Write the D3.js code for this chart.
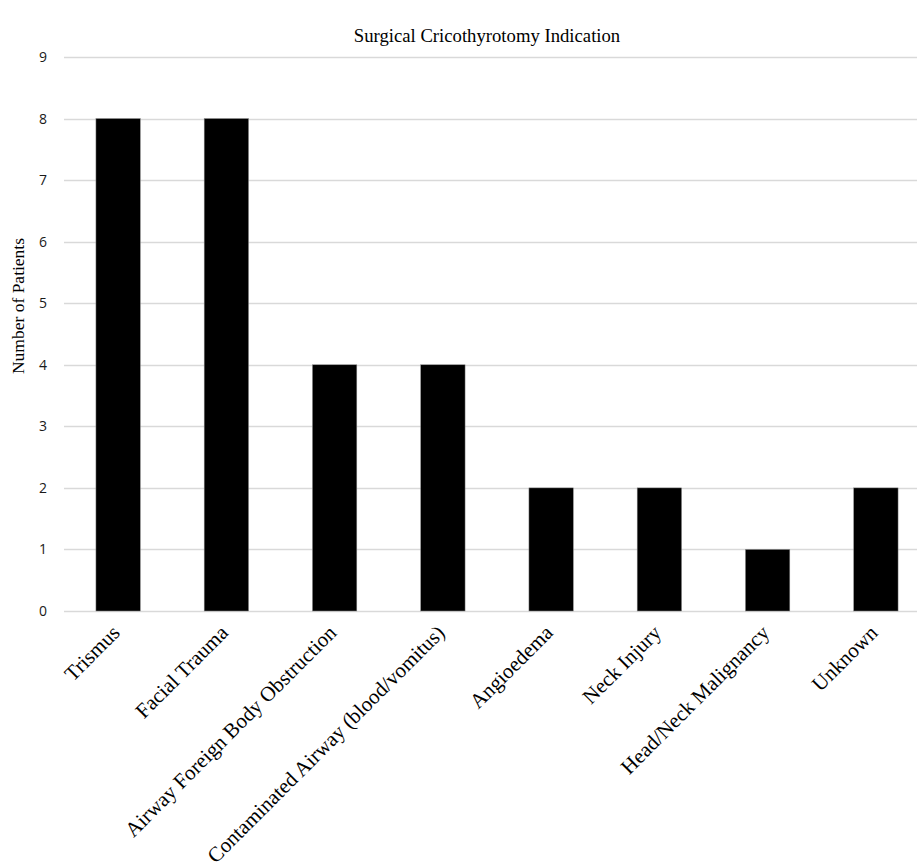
<!DOCTYPE html>
<html>
<head>
<meta charset="utf-8">
<script src="https://d3js.org/d3.v7.min.js"></script>
<style>
  body { margin: 0; background: #fff; overflow: hidden; }
  svg { display: block; }
</style>
</head>
<body>
<div id="chart"></div>
<script>
// Surgical Cricothyrotomy Indication - bar chart

var categories = [
  'Trismus',
  'Facial Trauma',
  'Airway Foreign Body Obstruction',
  'Contaminated Airway (blood/vomitus)',
  'Angioedema',
  'Neck Injury',
  'Head/Neck Malignancy',
  'Unknown'
];
var patients = [8, 8, 4, 4, 2, 2, 1, 2];
var yTicks = [0, 1, 2, 3, 4, 5, 6, 7, 8, 9];

var width = 917, height = 868;
var margin = { left: 64, right: -13, top: 57, bottom: 257 };

var svg = d3.select('#chart').append('svg')
  .attr('width', width)
  .attr('height', height);

var x = d3.scaleBand()
  .domain(categories)
  .range([margin.left, width - margin.right])
  .paddingInner(0.59)
  .paddingOuter(0.295);

var y = d3.scaleLinear()
  .domain([0, 9])
  .range([height - margin.bottom, margin.top]);

// gridlines
svg.append('g')
  .selectAll('line')
  .data(yTicks)
  .join('line')
  .attr('x1', margin.left)
  .attr('x2', width - margin.right)
  .attr('y1', function(d) { return Math.round(y(d)) + 0.5; })
  .attr('y2', function(d) { return Math.round(y(d)) + 0.5; })
  .attr('stroke', '#d9d9d9')
  .attr('stroke-width', 1.3);

// y axis labels
var yAxis = svg.append('g')
  .attr('transform', 'translate(' + (margin.left - 17) + ',0)')
  .call(d3.axisLeft(y).tickValues(yTicks).tickSize(0).tickPadding(0));
yAxis.select('.domain').remove();
yAxis.selectAll('text')
  .attr('font-family', '"Open Sans", sans-serif')
  .attr('font-size', 14)
  .attr('fill', '#1a1a1a');

// bars
svg.append('g')
  .selectAll('rect')
  .data(patients)
  .join('rect')
  .attr('x', function(d, i) { return x(categories[i]); })
  .attr('y', function(d) { return y(d); })
  .attr('width', x.bandwidth())
  .attr('height', function(d) { return y(0) - y(d); })
  .attr('fill', '#000')
  .attr('stroke', '#8c8c8c')
  .attr('stroke-width', 0.5);

// category labels
svg.append('g')
  .selectAll('text')
  .data(categories)
  .join('text')
  .attr('transform', function(d) {
    var cx = x(d) + x.bandwidth() / 2;
    return 'translate(' + (cx + 3) + ',' + (y(0) + 23) + ') rotate(-45)';
  })
  .attr('text-anchor', 'end')
  .attr('font-family', '"Liberation Serif", "Times New Roman", serif')
  .attr('font-size', 21)
  .attr('fill', '#000')
  .text(function(d) { return d; });

// title
svg.append('text')
  .attr('x', 487)
  .attr('y', 42)
  .attr('text-anchor', 'middle')
  .attr('font-family', '"Liberation Serif", "Times New Roman", serif')
  .attr('font-size', 18.7)
  .attr('fill', '#000')
  .text('Surgical Cricothyrotomy Indication');

// y axis title
svg.append('text')
  .attr('transform', 'translate(24,306) rotate(-90)')
  .attr('text-anchor', 'middle')
  .attr('font-family', '"Liberation Serif", "Times New Roman", serif')
  .attr('font-size', 17.5)
  .attr('fill', '#000')
  .text('Number of Patients');
</script>
</body>
</html>
